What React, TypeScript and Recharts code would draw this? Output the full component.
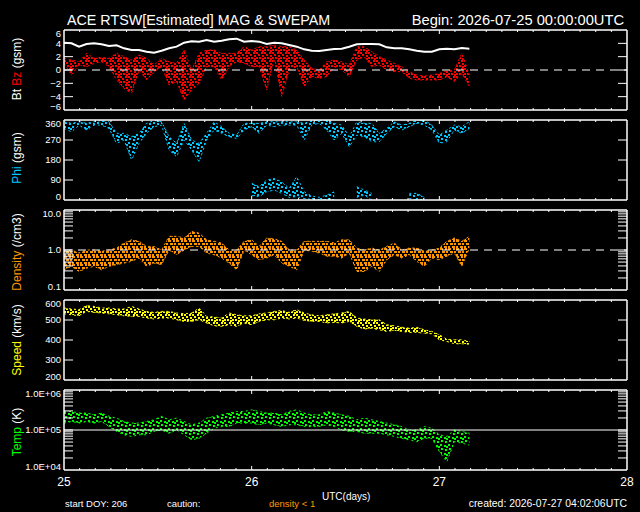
import React from 'react';
import { ComposedChart, Area, Line, XAxis, YAxis, ReferenceLine, ReferenceArea } from 'recharts';

// samples every 0.04 day starting 2026-07-25 00:00 (day 25)
const START_DAY = 25;
const STEP_DAYS = 0.04;

// Bt (nT)
const BT = [4.1, 4.0, 3.5, 3.9, 4.0, 3.85, 3.6, 3.7, 3.25, 3.0, 3.0, 2.75, 2.6, 2.9, 3.25, 3.5, 4.1, 4.3, 4.25, 4.5,
  4.25, 4.4, 4.6, 4.7, 4.25, 4.35, 4.25, 3.9, 4.1, 4.0, 3.75, 3.5, 3.1, 2.9, 2.85, 3.0, 3.15, 3.2, 3.5, 3.85,
  3.9, 3.9, 3.85, 3.4, 3.25, 3.25, 3.1, 2.9, 2.75, 2.75, 3.1, 3.2, 3.1, 3.3, 3.2];

// Bz spread (nT)
const BZ_HI = [1.75, 1.5, 1.25, 2.5, 1.75, 1.9, 1.75, 2.5, 2.0, 1.5, 2.25, 1.75, 0.75, 1.75, 1.25, 1.0, 3.0, 0, 2.5, 3.0,
  3.0, 2.5, 2.5, 2.5, 3.5, 3.0, 3.5, 3.5, 3.75, 3.5, 3.5, 3.0, 1.5, 0.25, 0, 1.25, 1.5, 1.25, 0.75, 3.5,
  3.5, 2.75, 2.0, 1.5, 1.0, 0.5, -0.25, -0.75, -0.9, -0.75, -0.5, -0.1, 0, 2.5, -0.75];
const BZ_LO = [1.0, -0.75, 0.75, 0.5, 1.0, 1.25, 0.5, -1.5, -2.75, -3.5, 0, -1.5, -0.25, 0.5, -2.25, -1.75, -4.5, -3.0, -2.0, 0.5,
  0.5, -1.5, 0.5, 1.25, 1.0, 0.5, 0.5, -3.0, 1.75, -4.0, 0, 0.5, -2.5, -1.0, -1.25, -1.0, 0.5, 0, -1.0, 1.5,
  2.0, 0.5, 0.75, 0, -0.25, -0.25, -1.25, -1.5, -1.5, -1.5, -1.5, -1.0, -1.75, -0.5, -2.5];

// Phi (deg), main band near 360 and the low band near 0
const PHI_HI = [352, 345, 352, 345, 352, 358, 352, 300, 300, 285, 300, 345, 358, 352, 285, 255, 345, 270, 255, 300,
  352, 330, 300, 292, 345, 345, 345, 352, 352, 352, 352, 352, 345, 358, 358, 360, 345, 337, 285, 352,
  345, 345, 300, 322, 352, 337, 345, 360, 360, 337, 292, 315, 337, 330, 352];
const PHI_LO = [322, 307, 337, 315, 337, 337, 322, 255, 270, 180, 255, 300, 330, 337, 225, 195, 270, 225, 172, 270,
  315, 300, 285, 277, 315, 330, 300, 337, 330, 337, 337, 337, 270, 337, 345, 315, 270, 300, 240, 292,
  285, 262, 262, 300, 330, 315, 330, 345, 337, 315, 255, 262, 315, 300, 322];
const PHI_LOW_HI = [null, null, null, null, null, null, null, null, null, null, null, null, null, null, null, null, null, null, null, null,
  null, null, null, null, null, 75, 60, 90, 97, 82, 52, 105, 37, 18, 12, 22, 37, null, null, 60,
  45, 30, null, null, null, null, 30, 30, 12, null, null, null, null, null, null];
const PHI_LOW_LO = [null, null, null, null, null, null, null, null, null, null, null, null, null, null, null, null, null, null, null, null,
  null, null, null, null, null, 20, 15, 37, 45, 30, 12, 15, 7, 3, 3, 0, 0, null, null, 12,
  22, 0, null, null, null, null, 7, 0, 0, null, null, null, null, null, null];

// proton density (/cm3)
const DEN_HI = [0.93, 1.0, 0.84, 1.0, 1.0, 0.93, 1.0, 1.12, 1.5, 1.8, 1.65, 1.23, 1.23, 1.0, 2.2, 2.2, 2.0, 2.9, 2.65, 1.8,
  1.65, 1.5, 1.0, 1.0, 1.65, 1.8, 1.23, 2.0, 1.9, 1.65, 1.0, 1.0, 1.65, 1.65, 1.65, 1.65, 1.5, 1.8, 1.8, 1.12,
  1.0, 1.12, 1.0, 1.23, 1.5, 1.0, 1.12, 1.12, 0.93, 1.0, 1.12, 1.65, 2.0, 1.65, 2.2];
const DEN_LO = [0.32, 0.39, 0.29, 0.35, 0.39, 0.32, 0.39, 0.43, 0.47, 0.52, 0.63, 0.39, 0.47, 0.43, 1.0, 0.76, 1.0, 1.23, 1.23, 0.84,
  0.76, 0.63, 0.47, 0.32, 1.0, 0.76, 0.57, 0.63, 0.76, 0.47, 0.39, 0.32, 1.0, 0.93, 0.84, 0.7, 0.7, 0.63, 0.84, 0.29,
  0.29, 0.39, 0.29, 0.57, 0.76, 0.63, 0.76, 0.52, 0.39, 0.63, 0.57, 0.7, 0.84, 0.39, 1.12];

// bulk speed (km/s)
const SPD_HI = [560, 555, 552, 572, 568, 560, 560, 555, 555, 568, 555, 543, 538, 543, 543, 535, 531, 535, 560, 518,
  515, 510, 535, 526, 521, 521, 531, 535, 543, 548, 538, 552, 535, 526, 521, 526, 531, 535, 543, 510,
  505, 501, 501, 476, 471, 464, 459, 464, 451, 443, 426, 404, 401, 401, 393];
const SPD_LO = [531, 526, 521, 543, 538, 535, 531, 526, 521, 518, 518, 510, 505, 510, 510, 501, 493, 493, 501, 485,
  471, 468, 476, 468, 485, 476, 493, 501, 501, 510, 505, 510, 498, 493, 493, 485, 488, 485, 493, 468,
  455, 459, 451, 443, 448, 443, 438, 438, 434, 431, 401, 393, 381, 381, 379];

// ion temperature (K)
const TMP_HI = [290000, 290000, 265000, 265000, 240000, 265000, 220000, 198000, 163000, 149000,
  149000, 163000, 180000, 220000, 180000, 198000, 163000, 135000, 149000, 198000,
  220000, 240000, 265000, 290000, 290000, 320000, 290000, 265000, 265000, 240000,
  290000, 320000, 265000, 240000, 240000, 290000, 265000, 240000, 220000, 180000,
  198000, 180000, 163000, 149000, 135000, 122000, 100000, 100000, 122000, 111000,
  76000, 69000, 100000, 92000, 83000];
const TMP_LO = [149000, 163000, 149000, 163000, 149000, 163000, 122000, 92000, 76000, 69000,
  76000, 76000, 92000, 100000, 83000, 100000, 76000, 57000, 62000, 83000,
  111000, 122000, 122000, 149000, 149000, 149000, 135000, 149000, 135000, 122000,
  135000, 135000, 122000, 122000, 122000, 135000, 122000, 100000, 92000, 92000,
  83000, 83000, 83000, 76000, 69000, 62000, 57000, 51000, 62000, 62000,
  29000, 16000, 51000, 47000, 42000];

// caution strip: intervals (days) with density < 1
const CAUTION = [[25.0, 25.272], [25.289, 25.334], [25.352, 25.387], [25.405, 25.529], [25.591, 25.6],
  [25.618, 25.627], [25.725, 25.76], [25.796, 25.884], [25.902, 25.938], [26.009, 26.044],
  [26.08, 26.097], [26.142, 26.16], [26.195, 26.257], [26.328, 26.364], [26.391, 26.417],
  [26.47, 26.479], [26.533, 26.559], [26.577, 26.754], [26.772, 26.834], [26.87, 26.959], [27.11, 27.127]];

const BZ_TICKS = [-6, -4, -2, 0, 2, 4, 6];
const PHI_TICKS = [0, 90, 180, 270, 360];
const DEN_TICKS = [0.1, 0.2, 0.3, 0.4, 0.5, 0.6, 0.7, 0.8, 0.9, 1, 2, 3, 4, 5, 6, 7, 8, 9, 10];
const SPD_TICKS = [200, 300, 400, 500, 600];
const TMP_TICKS = [1e4, 2e4, 3e4, 4e4, 5e4, 6e4, 7e4, 8e4, 9e4, 1e5, 2e5, 3e5, 4e5, 5e5, 6e5, 7e5, 8e5, 9e5, 1e6];
const DAY_TICKS = [25, 26, 27, 28];
const HOUR_TICKS = Array.from({ length: 37 }, (_, k) => 25 + k / 12);

const FONT = '"Liberation Sans", Arial, sans-serif';
const RED = '#ff0000';
const CYAN = '#00c8ff';
const ORANGE = '#ff9600';
const YELLOW = '#ffff00';
const GREEN = '#00ff00';

const rows = BT.map((bt, i) => ({
  t: START_DAY + i * STEP_DAYS,
  bt,
  bz: [BZ_LO[i], BZ_HI[i]],
  phi: [PHI_LO[i], PHI_HI[i]],
  phiLow: PHI_LOW_LO[i] == null ? null : [PHI_LOW_LO[i], PHI_LOW_HI[i]],
  den: [DEN_LO[i], DEN_HI[i]],
  spd: [SPD_LO[i], SPD_HI[i]],
  tmp: [TMP_LO[i], TMP_HI[i]],
}));

const cautionRows = CAUTION.map(([a, b]) => ({ a, b }));

// speckle tiles so the bands look like the dotted clouds of the original
const DENSE = [[0, 0], [5, 0], [2, 2], [6, 3], [0, 5], [3, 5], [6, 6]];
const SPARSE = [[0, 0], [4, 1], [1, 4], [5, 5], [6, 2]];
const STRIPES = [[0, 0, 3], [5, 0, 2], [2, 3, 3], [6, 3, 2], [0, 6, 2], [4, 6, 3]];

function Speckle({ id, color, cells }: { id: string; color: string; cells: number[][] }) {
  return (
    <pattern id={id} width={8} height={8} patternUnits="userSpaceOnUse">
      {cells.map(([x, y, w], k) => <rect key={k} x={x} y={y} width={w ?? 2} height={2} fill={color} />)}
    </pattern>
  );
}

const leftLabel = (fmt: (v: number) => string | null) => (props: any) => {
  const { x, y, payload } = props;
  const label = fmt(payload.value);
  if (!label) return <g />;
  const ly = Math.min(Math.max(y, 13.5), 87);
  return (
    <text x={x - 3} y={ly + 3.4} textAnchor="end" fill="#fff" fontSize={9.5} fontFamily={FONT}>{label}</text>
  );
};

const dayLabel = (props: any) => {
  const { x, y, payload } = props;
  return (
    <text x={x} y={y + 16} textAnchor="middle" fill="#fff" fontSize={12} fontFamily={FONT}>{payload.value}</text>
  );
};

type PanelProps = {
  top: number;
  domain: [number, number];
  ticks: number[];
  log?: boolean;
  fmt: (v: number) => string | null;
  days?: boolean;
  children: React.ReactNode;
};

const TICK_DX = (9 / 563) * 3; // 9px inward y ticks, in days

function Panel({ top, domain, ticks, log, fmt, days, children }: PanelProps) {
  const [a, b] = domain;
  const yAt = (f: number) =>
    log ? Math.pow(10, Math.log10(a) + f * (Math.log10(b) - Math.log10(a))) : a + f * (b - a);
  const height = days ? 116 : 100;
  const inner = ticks.filter((v) => v !== a && v !== b);
  const seg = (p: { x: number; y: number }[], k: string) => (
    <ReferenceLine key={k} xAxisId="b" yAxisId="l" segment={p} stroke="#fff" strokeWidth={1} />
  );
  return (
    <div style={{ position: 'absolute', left: 0, top: top - 10 }}>
      <ComposedChart width={640} height={height} data={rows}
        margin={{ top: 10, right: 13, bottom: days ? 6 : 10, left: 0 }}>
        <XAxis xAxisId="b" type="number" dataKey="t" domain={[25, 28]} ticks={DAY_TICKS} interval={0}
          height={days ? 20 : 0} hide={!days} tickSize={0} tickMargin={0} axisLine={false} tickLine={false}
          tick={dayLabel} allowDataOverflow />
        <YAxis yAxisId="l" type="number" domain={domain} scale={log ? 'log' : 'linear'} ticks={ticks} interval={0}
          width={64} tickSize={0} tickMargin={0} axisLine={false} tickLine={false}
          tick={leftLabel(fmt)} allowDataOverflow />
        {children}
        {inner.map((v) => seg([{ x: 25, y: v }, { x: 25 + TICK_DX, y: v }], `l${v}`))}
        {inner.map((v) => seg([{ x: 28 - TICK_DX, y: v }, { x: 28, y: v }], `r${v}`))}
        {HOUR_TICKS.slice(1, -1).map((t, k) => {
          const len = (k + 1) % 12 === 0 ? 4 / 80 : 2 / 80;
          return (
            <React.Fragment key={`h${k}`}>
              {seg([{ x: t, y: yAt(0) }, { x: t, y: yAt(len) }], `hb${k}`)}
              {seg([{ x: t, y: yAt(1) }, { x: t, y: yAt(1 - len) }], `ht${k}`)}
            </React.Fragment>
          );
        })}
        <ReferenceLine xAxisId="b" yAxisId="l" x={25} stroke="#fff" strokeWidth={1.5} />
        <ReferenceLine xAxisId="b" yAxisId="l" x={28} stroke="#fff" strokeWidth={1.5} />
        <ReferenceLine xAxisId="b" yAxisId="l" y={a} stroke="#fff" strokeWidth={1.5} />
        <ReferenceLine xAxisId="b" yAxisId="l" y={b} stroke="#fff" strokeWidth={1.5} />
      </ComposedChart>
    </div>
  );
}

const band = (key: string, color: string, pattern: string) => (
  <Area key={key} xAxisId="b" yAxisId="l" type="linear" dataKey={key} fill={`url(#${pattern})`} fillOpacity={1}
    stroke={color} strokeWidth={1} strokeDasharray="2 3" dot={false} activeDot={false} isAnimationActive={false} />
);

const fmtInt = (v: number) => (v < 0 ? `\u2212${Math.abs(v)}` : `${v}`);
const fmtDen = (v: number) => (v === 0.1 ? '0.1' : v === 1 ? '1.0' : v === 10 ? '10.0' : null);
const fmtTmp = (v: number) => (v === 1e4 ? '1.0E+04' : v === 1e5 ? '1.0E+05' : v === 1e6 ? '1.0E+06' : null);

function YLabel({ cx, cy, children }: { cx: number; cy: number; children: React.ReactNode }) {
  return (
    <text transform={`translate(${cx},${cy}) rotate(-90)`} textAnchor="middle" dominantBaseline="central"
      fontSize={12} fontFamily={FONT} fill="#fff">{children}</text>
  );
}

export default function App() {
  return (
    <div style={{ position: 'fixed', left: 0, top: 0, width: 640, height: 512, background: '#000', overflow: 'hidden' }}>
      <svg width={0} height={0} style={{ position: 'absolute' }}>
        <defs>
          <Speckle id="pBz" color={RED} cells={DENSE} />
          <Speckle id="pPhi" color={CYAN} cells={SPARSE} />
          <Speckle id="pDen" color={ORANGE} cells={STRIPES} />
          <Speckle id="pSpd" color={YELLOW} cells={DENSE} />
          <Speckle id="pTmp" color={GREEN} cells={SPARSE} />
        </defs>
      </svg>

      <Panel top={30} domain={[-6, 6]} ticks={BZ_TICKS} fmt={fmtInt}>
        {band('bz', RED, 'pBz')}
        <Line xAxisId="b" yAxisId="l" type="linear" dataKey="bt" stroke="#fff" strokeWidth={2} dot={false}
          activeDot={false} isAnimationActive={false} />
        <ReferenceLine xAxisId="b" yAxisId="l" y={0} stroke="#fff" strokeDasharray="8 6" />
      </Panel>
      <Panel top={120} domain={[0, 360]} ticks={PHI_TICKS} fmt={(v) => `${v}`}>
        {band('phi', CYAN, 'pPhi')}
        {band('phiLow', CYAN, 'pPhi')}
      </Panel>
      <Panel top={210} domain={[0.1, 10]} ticks={DEN_TICKS} log fmt={fmtDen}>
        {band('den', ORANGE, 'pDen')}
        <ReferenceLine xAxisId="b" yAxisId="l" y={1} stroke="#fff" strokeDasharray="8 6" />
      </Panel>
      <Panel top={300} domain={[200, 600]} ticks={SPD_TICKS} fmt={(v) => `${v}`}>
        {band('spd', YELLOW, 'pSpd')}
      </Panel>
      <Panel top={390} domain={[1e4, 1e6]} ticks={TMP_TICKS} log fmt={fmtTmp} days>
        {band('tmp', GREEN, 'pTmp')}
        <ReferenceLine xAxisId="b" yAxisId="l" y={1e5} stroke="#fff" />
      </Panel>

      <div style={{ position: 'absolute', left: 0, top: 473 }}>
        <ComposedChart width={640} height={2} data={cautionRows} margin={{ top: 0, right: 13, bottom: 0, left: 64 }}>
          <XAxis type="number" dataKey="a" domain={[25, 28]} hide allowDataOverflow />
          <YAxis type="number" domain={[0, 1]} hide />
          {CAUTION.map(([a, b]) => (
            <ReferenceArea key={a} x1={a} x2={b} y1={0} y2={1} fill={ORANGE} fillOpacity={1} stroke="none" ifOverflow="visible" />
          ))}
        </ComposedChart>
      </div>

      <svg width={640} height={512} style={{ position: 'absolute', left: 0, top: 0, pointerEvents: 'none' }}>
        <text x={67} y={25} fontSize={14.3} fontFamily={FONT} fill="#fff">ACE RTSW[Estimated] MAG &amp; SWEPAM</text>
        <text x={624} y={25} textAnchor="end" fontSize={14.7} fontFamily={FONT} fill="#fff">Begin: 2026-07-25 00:00:00UTC</text>
        <YLabel cx={17} cy={69}>
          <tspan>Bt </tspan><tspan fill={RED}>Bz</tspan><tspan> (gsm)</tspan>
        </YLabel>
        <YLabel cx={17} cy={158}>
          <tspan fill={CYAN}>Phi</tspan><tspan> (gsm)</tspan>
        </YLabel>
        <YLabel cx={17} cy={252}>
          <tspan fill={ORANGE}>Density</tspan><tspan> (/cm3)</tspan>
        </YLabel>
        <YLabel cx={17} cy={340}>
          <tspan fill={YELLOW}>Speed</tspan><tspan> (km/s)</tspan>
        </YLabel>
        <YLabel cx={17} cy={432}>
          <tspan fill={GREEN}>Temp</tspan><tspan> (K)</tspan>
        </YLabel>
        <text x={322} y={500} fontSize={10} fontFamily={FONT} fill="#fff">UTC(days)</text>
        <text x={65} y={507} fontSize={9.5} fontFamily={FONT} fill="#fff">start DOY: 206</text>
        <text x={167} y={507} fontSize={9.5} fontFamily={FONT} fill="#fff">caution:</text>
        <text x={269} y={507} fontSize={9.5} fontFamily={FONT} fill={ORANGE}>density &lt; 1</text>
        <text x={627} y={507} textAnchor="end" fontSize={10.4} fontFamily={FONT} fill="#fff">created: 2026-07-27 04:02:06UTC</text>
      </svg>
    </div>
  );
}
